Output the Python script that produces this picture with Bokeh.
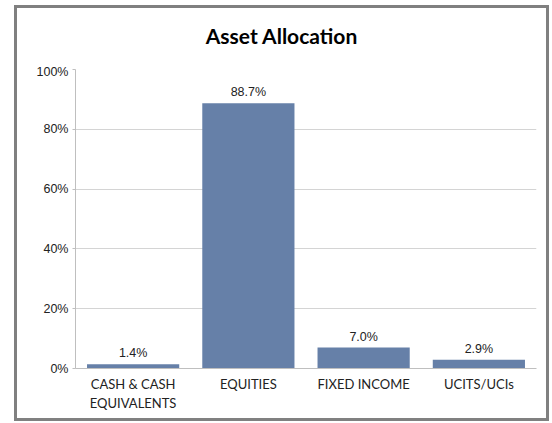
from bokeh.plotting import figure
from bokeh.models import ColumnDataSource, FixedTicker, PrintfTickFormatter, Range1d, LabelSet, Div
from bokeh.layouts import column
from bokeh.core.properties import value
from bokeh.embed import file_html
from bokeh.resources import INLINE

title_text = "Asset Allocation"
categories = ["CASH & CASH\nEQUIVALENTS", "EQUITIES", "FIXED INCOME", "UCITS/UCIs"]
values = [1.4, 88.7, 7.0, 2.9]
labels = ["1.4%", "88.7%", "7.0%", "2.9%"]
y_ticks = [0, 20, 40, 60, 80, 100]

src = ColumnDataSource(dict(cat=categories, val=values, lab=labels))

title_div = Div(text=title_text, width=529, height=56, margin=0,
                styles={"text-align": "center", "font-family": "Lato", "font-weight": "bold",
                        "font-size": "21px", "line-height": "56px", "color": "#000000",
                        "width": "529px"})

p = figure(x_range=categories, y_range=Range1d(0, 100), width=529, height=354, margin=0,
           output_backend="svg", toolbar_location=None,
           min_border_left=58, min_border_right=10, min_border_top=5, min_border_bottom=50)

p.vbar(x="cat", top="val", width=0.8, source=src, fill_color="#6680a8", line_color=None)
p.add_layout(LabelSet(x="cat", y="val", text="lab", source=src, text_align="center",
                      text_baseline="bottom", y_offset=4, text_font=value("Liberation Sans"),
                      text_font_size=value("12.5px"), text_color="#222222"))

p.outline_line_color = None
p.background_fill_color = "white"
p.border_fill_color = "white"

p.xgrid.grid_line_color = None
p.ygrid.grid_line_color = "#d4d4d4"
p.ygrid.ticker = FixedTicker(ticks=y_ticks)

p.yaxis.ticker = FixedTicker(ticks=y_ticks)
p.yaxis.formatter = PrintfTickFormatter(format="%d%%")
p.yaxis.axis_line_color = "#bfbfbf"
p.yaxis.major_tick_line_color = "#bfbfbf"
p.yaxis.major_tick_out = 3
p.yaxis.major_tick_in = 0
p.yaxis.minor_tick_line_color = None
p.yaxis.major_label_text_font = "Liberation Sans"
p.yaxis.major_label_text_font_size = "12.5px"
p.yaxis.major_label_text_color = "#222222"
p.yaxis.major_label_standoff = 4

p.xaxis.axis_line_color = "#bfbfbf"
p.xaxis.major_tick_line_color = None
p.xaxis.minor_tick_line_color = None
p.xaxis.major_label_text_font = "Lato"
p.xaxis.major_label_text_font_size = "13px"
p.xaxis.major_label_text_color = "#222222"
p.xaxis.major_label_standoff = 1

layout = column(title_div, p, spacing=0,
                styles={"outline": "3px solid #808080", "margin-left": "17px",
                        "margin-top": "8px", "background-color": "white"})

open("out.html", "w").write(file_html(layout, INLINE))
